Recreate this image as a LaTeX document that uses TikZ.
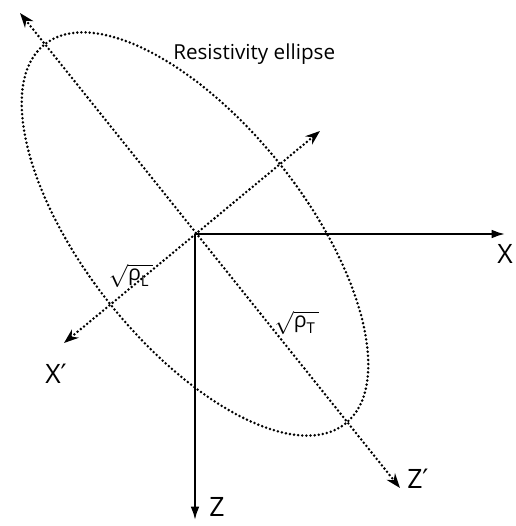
\documentclass[tikz,border=0pt]{standalone}
\usepackage{amsmath}
\usepackage{fontspec}
\setmainfont{Open Sans}
\newfontfamily\primefont{DejaVu Sans}
\usepackage{tikz}
\usetikzlibrary{arrows.meta,positioning}

\begin{document}
\begin{tikzpicture}[
  x=0.75pt,y=0.75pt,
  axis/.style={line width=1.5pt,-{Latex[length=10pt,width=6.5pt]}},
  dotaxis/.style={line width=2.1pt,line cap=round,dash pattern=on 0pt off 3.1pt,
                  {Stealth[length=11pt,width=8pt]}-{Stealth[length=11pt,width=8pt]}},
  dotline/.style={line width=2.1pt,line cap=round,dash pattern=on 0pt off 3.1pt},
  axlabel/.style={inner sep=0pt,font=\fontsize{20}{24}\selectfont},
  rholabel/.style={inner sep=0pt,font=\fontsize{16}{19}\selectfont}
]
\useasboundingbox (0,0) rectangle (516,526);
\coordinate (o) at (195,292);
\coordinate (xtip) at (505,292);
\coordinate (ztip) at (195,6);
\coordinate (zpa) at (20,513);
\coordinate (zpb) at (400,38);
\coordinate (xpa) at (320,395);
\coordinate (xpb) at (64,183);
% ellipse and rotated axes
\draw[dotline] (o) ellipse[x radius=242,y radius=110,rotate=-51.6];
\draw[dotaxis] (zpa) -- (zpb);
\draw[dotaxis] (xpa) -- (xpb);
% measuring axes
\draw[axis] (o) -- (xtip);
\draw[axis] (o) -- (ztip);
\node[axlabel,anchor=west] (lx) at (497,272) {X};
\node[axlabel,anchor=base west] (lz) at (209,9) {Z};
\node[axlabel,anchor=west] (lzp) at (407,47) {Z{\primefont ′}};
\node[axlabel,anchor=west] (lxp) at (45,152) {X{\primefont ′}};
\node[inner sep=0pt,font=\fontsize{15.5}{18}\selectfont,anchor=base west] (title) at (173,466) {Resistivity ellipse};
\node[rholabel] (rl) at (131,250) {$\sqrt{\text{ρ}_{\text{L}}\,}$};
\node[rholabel] (rt) at (297,203) {$\sqrt{\text{ρ}_{\text{T}}\,}$};
\end{tikzpicture}
\end{document}
